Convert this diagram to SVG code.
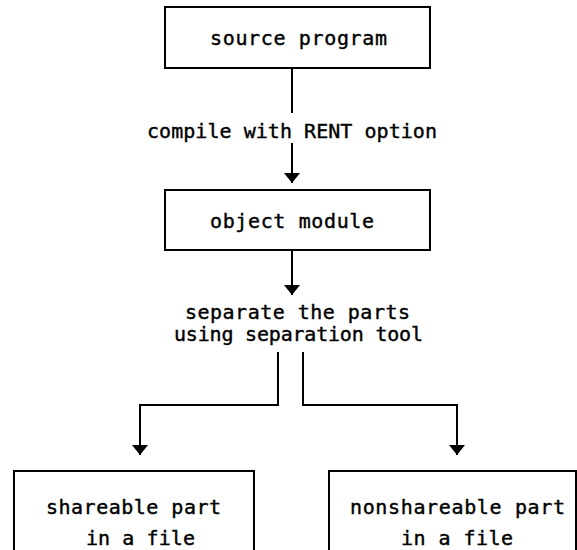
<svg xmlns="http://www.w3.org/2000/svg" width="577" height="550" viewBox="0 0 577 550">
  <style>
    .box { fill: #fff; stroke: #000; stroke-width: 2; }
    .lbl { font-family: "DejaVu Sans Mono", "Liberation Mono", monospace; font-size: 20px; fill: #000; stroke: #000; stroke-width: 0.4px; }
    .wire { fill: none; stroke: #000; stroke-width: 2; }
  </style>
  <defs>
    <marker id="arrow" viewBox="0 0 10 16" refX="10" refY="8" markerWidth="10" markerHeight="16" markerUnits="userSpaceOnUse" orient="auto">
      <path d="M0,0 L10,8 L0,16 Z" fill="#000"/>
    </marker>
  </defs>
  <rect width="577" height="550" fill="#fff"/>

  <g id="connectors">
    <path class="wire" d="M292,68 V113"/>
    <path class="wire" d="M292,143 V183" marker-end="url(#arrow)"/>
    <path class="wire" d="M292,250 V295" marker-end="url(#arrow)"/>
    <path class="wire" d="M278,352 V405 H140 V455" marker-end="url(#arrow)"/>
    <path class="wire" d="M303,352 V405 H457 V455" marker-end="url(#arrow)"/>
    <text class="lbl" x="147" y="138" textLength="290">compile with RENT option</text>
    <text class="lbl" x="185" y="319" textLength="225">separate the parts</text>
    <text class="lbl" x="174" y="341" textLength="249">using separation tool</text>
  </g>

  <g id="source-program">
    <rect class="box" x="165" y="7" width="265" height="61"/>
    <text class="lbl" x="210" y="45" textLength="177">source program</text>
  </g>

  <g id="object-module">
    <rect class="box" x="165" y="190" width="265" height="60"/>
    <text class="lbl" x="210" y="228" textLength="164">object module</text>
  </g>

  <g id="shareable-part">
    <path class="wire" d="M14,551 V471 H254 V551"/>
    <text class="lbl" x="46" y="514" textLength="175">shareable part</text>
    <text class="lbl" x="86" y="545" textLength="109">in a file</text>
  </g>

  <g id="nonshareable-part">
    <path class="wire" d="M329,551 V471 H576 V551"/>
    <text class="lbl" x="350" y="514" textLength="215">nonshareable part</text>
    <text class="lbl" x="401" y="545" textLength="112">in a file</text>
  </g>
</svg>
